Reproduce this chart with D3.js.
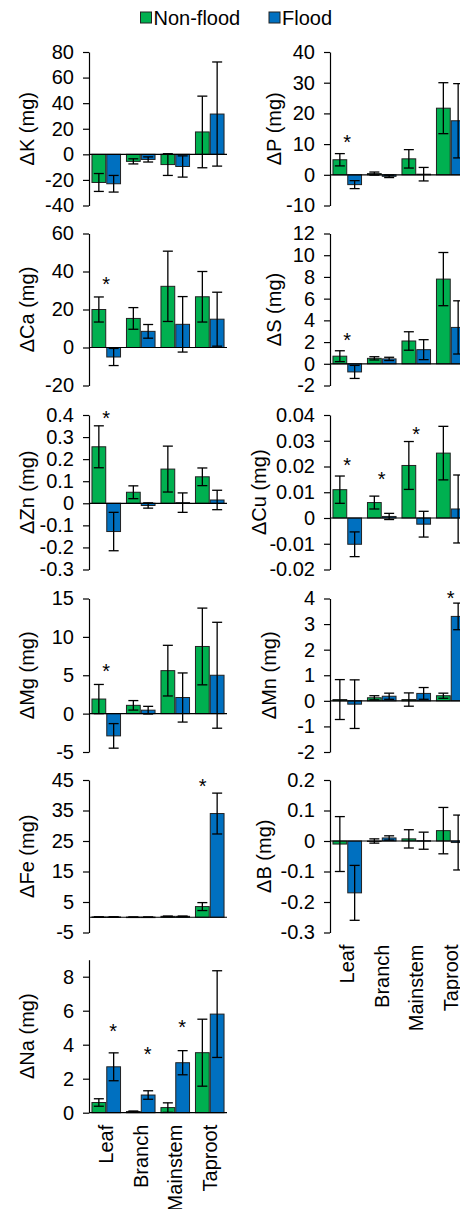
<!DOCTYPE html>
<html>
<head>
<meta charset="utf-8">
<script src="https://cdn.jsdelivr.net/npm/d3@7"></script>
<style>
  body { margin: 0; background: #fff; }
  svg { display: block; font-family: "Liberation Sans", Arial, sans-serif; }
</style>
</head>
<body>
<script>
// categories and series
var categories = ["Leaf", "Branch", "Mainstem", "Taproot"];
var series = ["Non-flood", "Flood"];

// means and errors per element: [non-flood, flood], values in category order
var K_mean = [[-22, -5.5, -8, 17.5], [-23, -4, -9.5, 31.5]];
var K_err = [[7, 2, 8.5, 28], [6.5, 2, 8.3, 40.7]];
var K_ticks = [-40, -20, 0, 20, 40, 60, 80];

var P_mean = [[4.9, 0.4, 5.2, 21.7], [-3.2, -0.5, 0.2, 17.6]];
var P_err = [[2, 0.5, 3, 8.3], [1.3, 0.4, 2.2, 12.1]];
var P_ticks = [-10, 0, 10, 20, 30, 40];

var Ca_mean = [[20, 15.3, 32.2, 26.7], [-5, 8.5, 12.2, 14.9]];
var Ca_err = [[6.6, 5.7, 18.5, 13.3], [4.5, 3.6, 14.6, 14.2]];
var Ca_ticks = [-20, 0, 20, 40, 60];

var S_mean = [[0.7, 0.5, 2.1, 7.8], [-0.75, 0.45, 1.3, 3.35]];
var S_err = [[0.5, 0.15, 0.85, 2.45], [0.6, 0.15, 0.92, 2.45]];
var S_ticks = [-2, 0, 2, 4, 6, 8, 10, 12];

var Zn_mean = [[0.256, 0.05, 0.155, 0.12], [-0.128, -0.01, 0.003, 0.015]];
var Zn_err = [[0.095, 0.029, 0.104, 0.04], [0.087, 0.012, 0.044, 0.044]];
var Zn_ticks = [-0.3, -0.2, -0.1, 0, 0.1, 0.2, 0.3, 0.4];

var Cu_mean = [[0.011, 0.006, 0.0204, 0.0252], [-0.0102, 0.0006, -0.0024, 0.0035]];
var Cu_err = [[0.0053, 0.0025, 0.0093, 0.0104], [0.0048, 0.0012, 0.005, 0.0132]];
var Cu_ticks = [-0.02, -0.01, 0, 0.01, 0.02, 0.03, 0.04];

var Mg_mean = [[1.9, 1.08, 5.6, 8.75], [-2.9, 0.45, 2.1, 5.0]];
var Mg_err = [[1.9, 0.62, 3.3, 5.0], [1.6, 0.5, 3.2, 6.9]];
var Mg_ticks = [-5, 0, 5, 10, 15];

var Mn_mean = [[0.05, 0.12, 0.05, 0.2], [-0.13, 0.18, 0.29, 3.3]];
var Mn_err = [[0.78, 0.08, 0.26, 0.1], [0.95, 0.12, 0.23, 0.52]];
var Mn_ticks = [-2, -1, 0, 1, 2, 3, 4];

var Fe_mean = [[0.1, 0.05, 0.3, 3.5], [0.1, 0.05, 0.3, 34]];
var Fe_err = [[0.05, 0.03, 0.1, 1.3], [0.05, 0.03, 0.1, 6.7]];
var Fe_ticks = [-5, 5, 15, 25, 35, 45];

var B_mean = [[-0.01, 0.0, 0.007, 0.034], [-0.17, 0.01, 0.001, -0.005]];
var B_err = [[0.09, 0.007, 0.03, 0.076], [0.09, 0.007, 0.028, 0.09]];
var B_ticks = [-0.3, -0.2, -0.1, 0, 0.1, 0.2];

var Na_mean = [[0.6, 0.07, 0.3, 3.53], [2.7, 1.04, 2.94, 5.8]];
var Na_err = [[0.22, 0.03, 0.28, 1.97], [0.82, 0.25, 0.71, 2.55]];
var Na_ticks = [0, 2, 4, 6, 8];

// significance marks: [category index, value, slot (-1 green, 0 centre, 1 blue)]
var P_stars = [[0, 12.2, 0]];
var Ca_stars = [[0, 35.8, 0]];
var S_stars = [[0, 2.66, 0]];
var Zn_stars = [[0, 0.405, 0]];
var Cu_stars = [[0, 0.0223, 0], [1, 0.0168, 0], [2, 0.0346, 0]];
var Mg_stars = [[0, 6.1, 0]];
var Mn_stars = [[3, 4.2, 0]];
var Fe_stars = [[3, 44.6, -1]];
var Na_stars = [[0, 5.1, 1], [1, 3.7, 1], [2, 5.3, 1]];

var colors = ["#00b050", "#0070c0"];

var panels = [
  {name: "K", mean: K_mean, err: K_err, ticks: K_ticks, stars: [], top: 80, col: 0, row: 0},
  {name: "P", mean: P_mean, err: P_err, ticks: P_ticks, stars: P_stars, top: 40, col: 1, row: 0, tx: 274},
  {name: "Ca", mean: Ca_mean, err: Ca_err, ticks: Ca_ticks, stars: Ca_stars, top: 60, col: 0, row: 1},
  {name: "S", mean: S_mean, err: S_err, ticks: S_ticks, stars: S_stars, top: 12, col: 1, row: 1, tx: 274},
  {name: "Zn", mean: Zn_mean, err: Zn_err, ticks: Zn_ticks, stars: Zn_stars, top: 0.4, col: 0, row: 2},
  {name: "Cu", mean: Cu_mean, err: Cu_err, ticks: Cu_ticks, stars: Cu_stars, top: 0.04, col: 1, row: 2, tx: 259},
  {name: "Mg", mean: Mg_mean, err: Mg_err, ticks: Mg_ticks, stars: Mg_stars, top: 15, col: 0, row: 3},
  {name: "Mn", mean: Mn_mean, err: Mn_err, ticks: Mn_ticks, stars: Mn_stars, top: 4, col: 1, row: 3, tx: 269},
  {name: "Fe", mean: Fe_mean, err: Fe_err, ticks: Fe_ticks, stars: Fe_stars, top: 45, col: 0, row: 4},
  {name: "B", mean: B_mean, err: B_err, ticks: B_ticks, stars: [], top: 0.2, col: 1, row: 4, tx: 264},
  {name: "Na", mean: Na_mean, err: Na_err, ticks: Na_ticks, stars: Na_stars, top: 9, col: 0, row: 5}
];

var width = 460, height = 1209, fontSize = 20;
var cols = [{axisX: 89, x1: 227, tx: 26.5}, {axisX: 330, x1: 468}];
var rows = [[205.5, 52], [385.5, 233.5], [569.5, 415], [752, 598.5], [932.5, 780], [1112.7, 959.7]];

var svg = d3.select("body").append("svg")
    .attr("width", width)
    .attr("height", height);

// legend
var legend = svg.append("g").attr("class", "legend");
var legX = [140.5, 269];
series.forEach(function(s, i) {
  legend.append("rect")
      .attr("x", legX[i]).attr("y", 12)
      .attr("width", 11).attr("height", 11)
      .attr("fill", colors[i])
      .attr("stroke", "#222").attr("stroke-width", 1);
  legend.append("text")
      .attr("x", legX[i] + 13).attr("y", 24.5)
      .attr("font-size", fontSize)
      .text(s);
});

function fmt(d) { return String(+d.toFixed(4)); }

panels.forEach(function(p) {
  var c = cols[p.col];
  var x0 = d3.scaleBand().domain(categories).range([c.axisX, c.x1]);
  var xs = d3.scaleBand().domain(series).range([0, x0.bandwidth()])
      .paddingInner(0.07).paddingOuter(0.2);
  var y = d3.scaleLinear().domain([d3.min(p.ticks), p.top]).range(rows[p.row]);

  var g = svg.append("g").attr("class", "panel");

  // bars
  p.mean.forEach(function(vals, si) {
    g.append("g").selectAll("rect")
      .data(vals)
      .enter().append("rect")
        .attr("x", function(d, i) { return x0(categories[i]) + xs(series[si]); })
        .attr("y", function(d) { return Math.min(y(d), y(0)); })
        .attr("width", xs.bandwidth())
        .attr("height", function(d) { return Math.max(0.5, Math.abs(y(d) - y(0))); })
        .attr("fill", colors[si])
        .attr("stroke", "#222")
        .attr("stroke-width", 1);
  });

  // zero line
  g.append("line")
      .attr("x1", c.axisX).attr("x2", c.x1)
      .attr("y1", y(0)).attr("y2", y(0))
      .attr("stroke", "#000").attr("stroke-width", 1.2);

  // error bars
  p.mean.forEach(function(vals, si) {
    vals.forEach(function(v, i) {
      var e = p.err[si][i];
      var cx = x0(categories[i]) + xs(series[si]) + xs.bandwidth() / 2;
      var eb = g.append("g").attr("stroke", "#000").attr("stroke-width", 1.3);
      eb.append("line").attr("x1", cx).attr("x2", cx).attr("y1", y(v - e)).attr("y2", y(v + e));
      eb.append("line").attr("x1", cx - 5).attr("x2", cx + 5).attr("y1", y(v - e)).attr("y2", y(v - e));
      eb.append("line").attr("x1", cx - 5).attr("x2", cx + 5).attr("y1", y(v + e)).attr("y2", y(v + e));
    });
  });

  // y axis
  var ax = g.append("g")
      .attr("transform", "translate(" + c.axisX + ",0)")
      .call(d3.axisLeft(y).tickValues(p.ticks).tickFormat(fmt)
        .tickSize(6).tickSizeOuter(0).tickPadding(9));
  ax.selectAll("text").attr("font-size", fontSize).attr("font-family", null).attr("fill", "#000");
  ax.selectAll("line, path").attr("stroke", "#000").attr("stroke-width", 1.2);

  // axis title
  var tx = p.tx || c.tx;
  var ty = (rows[p.row][0] + rows[p.row][1]) / 2;
  g.append("text")
      .attr("transform", "translate(" + tx + "," + ty + ") rotate(-90)")
      .attr("text-anchor", "middle")
      .attr("dy", "0.35em")
      .attr("font-size", fontSize)
      .text("\u0394" + p.name + " (mg)");

  // significance marks
  g.selectAll(".star")
    .data(p.stars)
    .enter().append("text")
      .attr("class", "star")
      .attr("x", function(d) { return x0(categories[d[0]]) + x0.bandwidth() / 2 + d[2] * 7; })
      .attr("y", function(d) { return y(d[1]); })
      .attr("dy", "0.58em")
      .attr("text-anchor", "middle")
      .attr("font-size", fontSize)
      .text("*");

  // category labels under the last panel of each column
  if (p.name === "Na" || p.name === "B") {
    var ly = rows[p.row][0] + 12;
    g.selectAll(".cat")
      .data(categories)
      .enter().append("text")
        .attr("class", "cat")
        .attr("transform", function(d) {
          return "translate(" + (x0(d) + x0.bandwidth() / 2) + "," + ly + ") rotate(-90)";
        })
        .attr("text-anchor", "end")
        .attr("dy", "0.35em")
        .attr("font-size", fontSize)
        .text(function(d) { return d; });
  }
});
</script>
</body>
</html>
